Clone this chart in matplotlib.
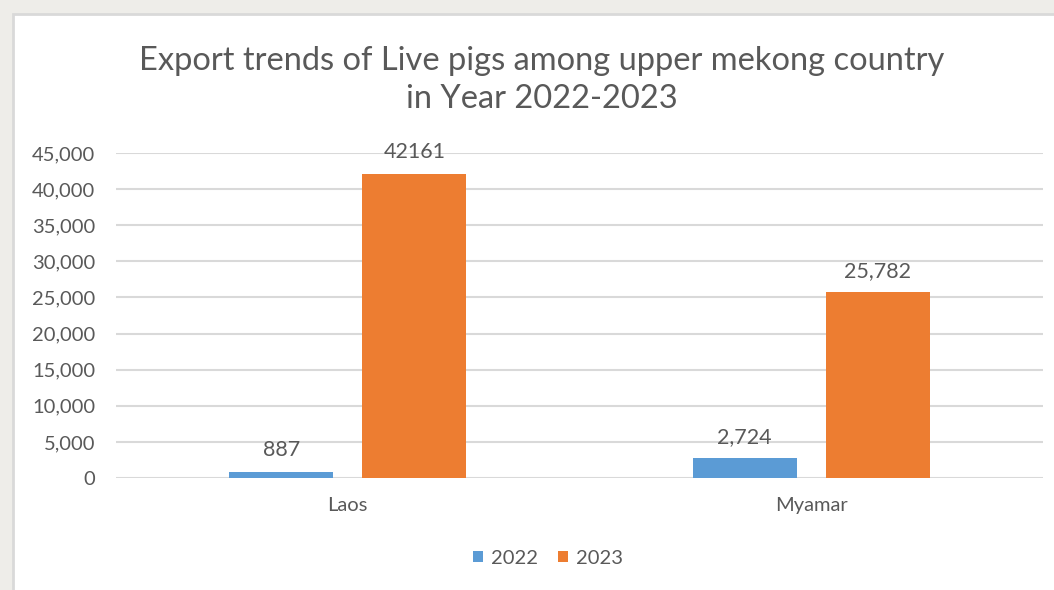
import matplotlib.pyplot as plt
from matplotlib.patches import Rectangle

# Datos
paises = ['Laos', 'Myamar']
anios = ['2022', '2023']
valores_2022 = [887, 2724]
valores_2023 = [42161, 25782]
etiquetas_2022 = ['887', '2,724']
etiquetas_2023 = ['42161', '25,782']
ticks_y = [0, 5000, 10000, 15000, 20000, 25000, 30000, 35000, 40000, 45000]

azul = '#5b9bd5'
naranja = '#ed7d31'
gris_texto = '#595959'

plt.rcParams['font.family'] = ['Lato', 'DejaVu Sans']

fig = plt.figure(figsize=(10.54, 5.90), dpi=100)
fig.patch.set_facecolor('#eeede9')

# marco blanco del gráfico
fig.patches.append(Rectangle((13 / 1054, -0.01), 1.0, 1 - 14 / 590 + 0.01,
                             transform=fig.transFigure, facecolor='white',
                             edgecolor='#d9d9d9', linewidth=2, zorder=-5))

ax = fig.add_axes([116 / 1054, 1 - 478 / 590, 927 / 1054, 325 / 590])
ax.set_facecolor('none')

x = range(len(paises))
ancho = 0.224
desp = 0.1435
b1 = ax.bar([i - desp for i in x], valores_2022, ancho, color=azul, label=anios[0], zorder=3)
b2 = ax.bar([i + desp for i in x], valores_2023, ancho, color=naranja, label=anios[1], zorder=3)

for barra, txt in zip(b1, etiquetas_2022):
    ax.annotate(txt, (barra.get_x() + barra.get_width() / 2, barra.get_height()),
                xytext=(0, 8), textcoords='offset points', ha='center', va='bottom',
                fontsize=15.5, color=gris_texto)
for barra, txt in zip(b2, etiquetas_2023):
    ax.annotate(txt, (barra.get_x() + barra.get_width() / 2, barra.get_height()),
                xytext=(0, 8), textcoords='offset points', ha='center', va='bottom',
                fontsize=15.5, color=gris_texto)

ax.set_xlim(-0.5, 1.5)
ax.set_ylim(0, 45000)
ax.set_yticks(ticks_y)
ax.set_yticklabels([f'{t:,}' for t in ticks_y])
ax.set_xticks(list(x))
ax.set_xticklabels(paises)
ax.tick_params(axis='both', length=0, labelsize=14.5, colors=gris_texto)
ax.tick_params(axis='y', pad=15)
ax.tick_params(axis='x', pad=14)
ax.grid(axis='y', color='#d9d9d9', linewidth=1.5, zorder=0)
for s in ax.spines.values():
    s.set_visible(False)

fig.text(542 / 1054, 1 - 80 / 590,
         'Export trends of Live pigs among upper mekong country\nin Year 2022-2023',
         ha='center', va='center', fontsize=23.5, color=gris_texto, linespacing=1.32)

fig.legend(loc='center', bbox_to_anchor=(548 / 1054, 1 - 558 / 590), ncol=2, frameon=False,
           fontsize=14.5, handlelength=0.5, handleheight=0.5, handletextpad=0.4,
           columnspacing=1.0, labelcolor=gris_texto)

fig.savefig('out.png', dpi=100, facecolor=fig.get_facecolor())
